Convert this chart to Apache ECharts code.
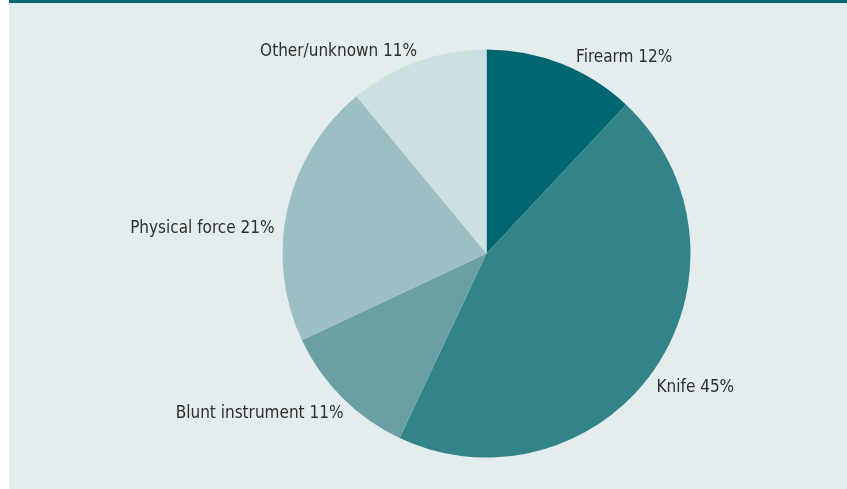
<!DOCTYPE html>
<html>
<head>
<meta charset="utf-8">
<script src="https://cdn.jsdelivr.net/npm/echarts@6/dist/echarts.min.js"></script>
<style>
  html, body { margin: 0; padding: 0; background: #ffffff; }
  #frame {
    position: absolute; left: 9px; top: 0; width: 838px; height: 489px;
    background: #e4eded; box-sizing: border-box; border-top: 3px solid #006770;
  }
  #chart { position: absolute; left: 0; top: 0; width: 847px; height: 489px; }
</style>
</head>
<body>
<div id="frame"></div>
<div id="chart"></div>
<script>
// Method of killing, share of cases (%)
const categories = ['Firearm', 'Knife', 'Blunt instrument', 'Physical force', 'Other/unknown'];
const shares = [12, 45, 11, 21, 11];
const colors = ['#006770', '#338489', '#6aa0a5', '#9dbec2', '#cde0e1'];
// label nudges (dx, dy) per slice
const labelShift = [[13, -3], [-2, 17], [4, 13], [-9, 20], [1, -6]];

const chart = echarts.init(document.getElementById('chart'), null, { renderer: 'canvas' });
chart.setOption({
  backgroundColor: 'transparent',
  animation: false,
  series: [{
    type: 'pie',
    center: [486.5, 253.5],
    radius: 204,
    startAngle: 90,
    clockwise: true,
    data: categories.map((name, i) => ({
      name, value: shares[i], itemStyle: { color: colors[i] }
    })),
    label: {
      show: true,
      position: 'outside',
      formatter: '{b} {d}%',
      fontFamily: '"Liberation Sans Narrow", "DejaVu Sans Condensed", sans-serif',
      fontSize: 17,
      color: '#2e2e2e',
      distanceToLabelLine: 0
    },
    labelLine: { show: false, length: 4, length2: 0 },
    labelLayout: function (p) {
      const s = labelShift[p.dataIndex];
      return { dx: s[0], dy: s[1] };
    },
    emphasis: { disabled: true }
  }]
});
</script>
</body>
</html>
